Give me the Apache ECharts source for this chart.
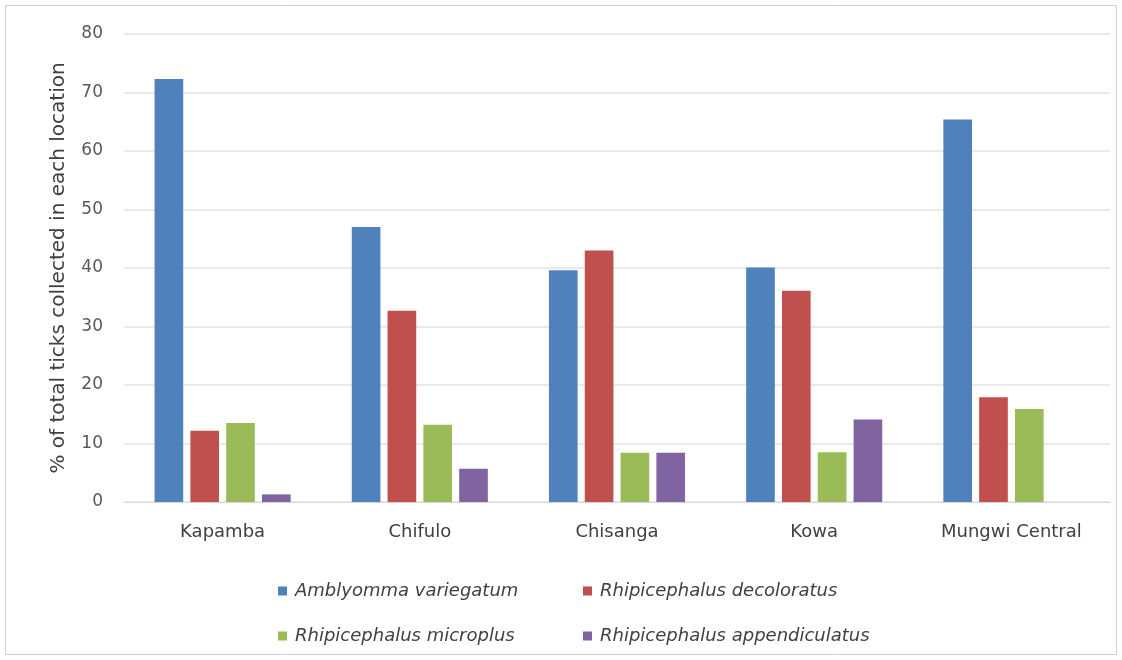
<!DOCTYPE html>
<html>
<head>
<meta charset="utf-8">
<script src="https://cdn.jsdelivr.net/npm/echarts@6/dist/echarts.min.js"></script>
<style>
  html, body { margin: 0; padding: 0; background: #fff; }
  #chart { width: 1122px; height: 660px; }
</style>
</head>
<body>
<div id="chart"></div>
<script>
var locations = ['Kapamba', 'Chifulo', 'Chisanga', 'Kowa', 'Mungwi Central'];
var amblyommaVariegatum = [72.3, 47.0, 39.6, 40.1, 65.4];
var rhipDecoloratus = [12.2, 32.7, 43.0, 36.1, 17.9];
var rhipMicroplus = [13.5, 13.2, 8.4, 8.5, 15.9];
var rhipAppendiculatus = [1.3, 5.7, 8.4, 14.1, 0];
var seriesNames = ['Amblyomma variegatum', 'Rhipicephalus decoloratus',
    'Rhipicephalus microplus', 'Rhipicephalus appendiculatus'];
var colors = ['#4F81BD', '#C0504D', '#9BBB59', '#8064A2'];
var font = '"DejaVu Sans", "Noto Sans", sans-serif';

var chart = echarts.init(document.getElementById('chart'));

// one legend per entry so the 2x2 grid lines up like the original
var legendPos = [[273, 577], [578, 577], [273, 622], [578, 622]];
var legends = seriesNames.map(function (name, i) {
    return {
        data: [name],
        left: legendPos[i][0],
        top: legendPos[i][1],
        itemWidth: 9,
        itemHeight: 9,
        itemGap: 0,
        icon: 'rect',
        textStyle: {
            fontFamily: font,
            fontStyle: 'italic',
            fontSize: 18,
            color: '#404040',
            padding: [0, 0, 0, 3]
        }
    };
});

chart.setOption({
    animation: false,
    color: colors,
    textStyle: { fontFamily: font },
    graphic: [{
        type: 'rect',
        shape: { x: 5.5, y: 5.5, width: 1111, height: 649 },
        style: { fill: 'none', stroke: '#d0d0d0', lineWidth: 1 },
        silent: true
    }],
    legend: legends,
    grid: {
        left: 124,
        right: 12,
        top: 34,
        bottom: 158
    },
    xAxis: {
        type: 'category',
        data: locations,
        axisTick: { show: false },
        axisLine: { lineStyle: { color: '#d9d9d9' } },
        axisLabel: {
            margin: 21,
            fontSize: 18,
            color: '#404040',
            fontFamily: font
        }
    },
    yAxis: {
        type: 'value',
        min: 0,
        max: 80,
        interval: 10,
        name: '% of total ticks collected in each location',
        nameLocation: 'middle',
        nameGap: 55,
        nameTextStyle: {
            fontSize: 20,
            color: '#404040',
            fontFamily: font
        },
        axisLine: { show: false },
        axisTick: { show: false },
        axisLabel: {
            margin: 21,
            fontSize: 17,
            color: '#595959',
            fontFamily: font
        },
        splitLine: { lineStyle: { color: '#e3e3e3', width: 1.5 } }
    },
    series: [
        { name: seriesNames[0], type: 'bar', data: amblyommaVariegatum, barGap: '25%', barCategoryGap: '31%' },
        { name: seriesNames[1], type: 'bar', data: rhipDecoloratus },
        { name: seriesNames[2], type: 'bar', data: rhipMicroplus },
        { name: seriesNames[3], type: 'bar', data: rhipAppendiculatus }
    ]
});
</script>
</body>
</html>
